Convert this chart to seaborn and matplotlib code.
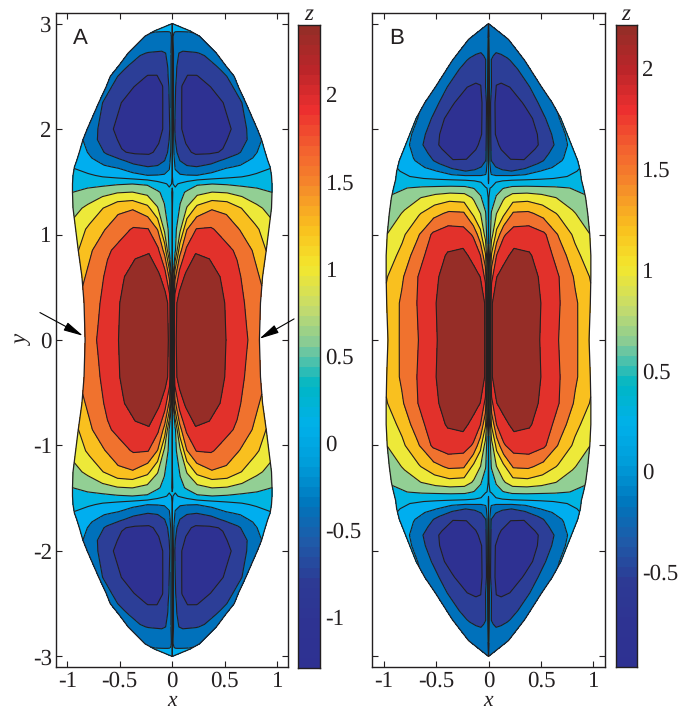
# === IMPORTS ===
import numpy as np
import matplotlib
matplotlib.use("Agg")
import matplotlib.pyplot as plt
from matplotlib.colors import ListedColormap
import seaborn as sns

# === SETTINGS ===
sns.set_theme(style="ticks")
plt.rcParams["font.family"] = ["Liberation Serif", "DejaVu Serif"]
plt.rcParams["axes.unicode_minus"] = False
plt.rcParams["text.hinting"] = "no_hinting"
INK = "#231F20"
FIG_W, FIG_H = 679, 710

# === DATA ===
# columns are fractions of the half width of the shape at each row
XI = [0, 0.03, 0.08, 0.15, 0.25, 0.4, 0.55, 0.7, 0.85, 1]

Y_A = [0, 0.35, 0.6, 0.85, 1.05, 1.25, 1.40, 1.48, 1.56, 1.64, 1.70, 1.78, 1.9, 2.0, 2.25, 2.4, 2.5, 2.6, 2.72, 2.88, 2.93, 3]
WIDTH_A = [0.83, 0.84, 0.86, 0.895, 0.92, 0.945, 0.95, 0.95, 0.945, 0.932, 0.91, 0.885, 0.85, 0.81, 0.70, 0.63, 0.59, 0.51, 0.42, 0.26, 0.17, 0]
Z_A = [
    [0.04, 2.0, 2.2, 2.3, 2.38, 2.35, 2.15, 1.95, 1.75, 1.55],
    [0.04, 1.95, 2.2, 2.3, 2.37, 2.33, 2.13, 1.9, 1.68, 1.5],
    [0.04, 1.3, 1.89, 2.12, 2.28, 2.25, 2.03, 1.82, 1.58, 1.33],
    [0.04, 0.3, 1.26, 1.78, 2.03, 1.97, 1.83, 1.67, 1.39, 1.05],
    [0.04, 0.3, 0.64, 1.37, 1.74, 1.76, 1.6, 1.38, 1.14, 0.87],
    [0.04, 0.18, 0.42, 0.75, 1.15, 1.36, 1.3, 1.05, 0.8, 0.6],
    [0.04, 0.1, 0.3, 0.44, 0.62, 0.73, 0.7, 0.6, 0.47, 0.385],
    [0.06, 0.02, 0.08, 0.18, 0.34, 0.38, 0.35, 0.3, 0.3, 0.28],
    [0.06, -0.2, -0.25, -0.27, -0.28, -0.18, -0.08, 0.0, 0.1, 0.15],
    [0.06, -0.32, -0.5, -0.58, -0.61, -0.5, -0.32, -0.24, -0.12, 0.03],
    [0.06, -0.4, -0.62, -0.75, -0.82, -0.75, -0.55, -0.4, -0.22, -0.05],
    [0.06, -0.55, -0.72, -0.9, -1.0, -1.0, -0.93, -0.68, -0.42, -0.1],
    [0.06, -0.6, -0.82, -0.98, -1.05, -1.08, -1.02, -0.87, -0.6, -0.29],
    [0.06, -0.62, -0.9, -1.02, -1.1, -1.12, -1.05, -0.95, -0.66, -0.42],
    [0.06, -0.55, -0.85, -1.0, -1.1, -1.12, -1.05, -0.95, -0.75, -0.55],
    [0.06, -0.5, -0.78, -0.97, -1.03, -1.03, -0.98, -0.85, -0.7, -0.52],
    [0.06, -0.45, -0.68, -0.85, -0.97, -0.97, -0.85, -0.75, -0.65, -0.5],
    [0.06, -0.4, -0.6, -0.78, -0.82, -0.81, -0.76, -0.7, -0.6, -0.45],
    [0.06, -0.3, -0.5, -0.62, -0.65, -0.64, -0.63, -0.6, -0.5, -0.4],
    [0.06, -0.28, -0.33, -0.36, -0.38, -0.38, -0.37, -0.36, -0.34, -0.31],
    [0.06, -0.25, -0.26, -0.27, -0.27, -0.27, -0.27, -0.27, -0.27, -0.27],
    [0.06, -0.05, -0.05, -0.05, -0.05, -0.05, -0.05, -0.05, -0.05, -0.05],
]

Y_B = [0, 0.35, 0.6, 0.8, 1.0, 1.2, 1.35, 1.44, 1.52, 1.6, 1.7, 1.85, 1.95, 2.1, 2.25, 2.4, 2.65, 2.85, 3]
WIDTH_B = [0.958, 0.97, 0.975, 0.975, 0.965, 0.945, 0.925, 0.905, 0.885, 0.875, 0.85, 0.79, 0.75, 0.69, 0.607, 0.505, 0.345, 0.19, 0]
Z_B = [
    [0.17, 1.9, 2.05, 2.15, 2.2, 2.1, 1.86, 1.63, 1.4, 1.18],
    [0.17, 1.9, 2.05, 2.15, 2.2, 2.1, 1.87, 1.64, 1.39, 1.13],
    [0.17, 1.55, 1.92, 2.03, 2.1, 2.05, 1.83, 1.62, 1.3, 1.03],
    [0.17, 1.1, 1.65, 1.85, 2.0, 1.95, 1.78, 1.49, 1.13, 0.9],
    [0.17, 0.65, 1.15, 1.6, 1.78, 1.8, 1.68, 1.3, 1.0, 0.77],
    [0.17, 0.5, 0.76, 0.98, 1.38, 1.4, 1.25, 1.03, 0.8, 0.62],
    [0.17, 0.3, 0.5, 0.72, 0.92, 0.95, 0.88, 0.76, 0.64, 0.51],
    [0.17, 0.2, 0.38, 0.46, 0.55, 0.56, 0.54, 0.52, 0.48, 0.4],
    [0.2, 0.05, 0.1, 0.14, 0.16, 0.18, 0.2, 0.22, 0.25, 0.3],
    [0.2, -0.2, -0.32, -0.36, -0.39, -0.3, -0.11, -0.02, 0.08, 0.22],
    [0.2, -0.39, -0.5, -0.6, -0.67, -0.67, -0.5, -0.26, -0.07, 0.1],
    [0.2, -0.42, -0.62, -0.72, -0.82, -0.87, -0.75, -0.55, -0.29, -0.02],
    [0.2, -0.42, -0.67, -0.8, -0.9, -0.94, -0.82, -0.53, -0.33, -0.06],
    [0.2, -0.4, -0.66, -0.8, -0.9, -0.92, -0.78, -0.53, -0.3, -0.07],
    [0.2, -0.38, -0.62, -0.82, -0.9, -0.85, -0.66, -0.47, -0.32, -0.17],
    [0.2, -0.3, -0.48, -0.7, -0.72, -0.68, -0.55, -0.46, -0.33, -0.22],
    [0.2, -0.2, -0.4, -0.43, -0.46, -0.44, -0.41, -0.36, -0.28, -0.2],
    [0.2, -0.12, -0.25, -0.27, -0.28, -0.28, -0.27, -0.26, -0.24, -0.2],
    [0.2, -0.15, -0.15, -0.15, -0.15, -0.15, -0.15, -0.15, -0.15, -0.15],
]

Z_RANGE_A = (-1.29, 2.396)
Z_RANGE_B = (-0.973, 2.214)

X_TICKS = [-1, -0.5, 0, 0.5, 1]
X_LABELS = ["-1", "-0.5", "0", "0.5", "1"]
Y_TICKS = [-3, -2, -1, 0, 1, 2, 3]
Y_LABELS = ["-3", "-2", "-1", "0", "1", "2", "3"]
CBAR_TICKS_A = [-1, -0.5, 0, 0.5, 1, 1.5, 2]
CBAR_LABELS_A = ["-1", "-0.5", "0", "0.5", "1", "1.5", "2"]
CBAR_TICKS_B = [-0.5, 0, 0.5, 1, 1.5, 2]
CBAR_LABELS_B = ["-0.5", "0", "0.5", "1", "1.5", "2"]

BAND_COLORS = ["#2E3192", "#2C3E97", "#0071BB", "#00AEEF", "#00B5E2", "#92CF94",
               "#EDE939", "#F9C01F", "#F0722E", "#E2312B", "#962D27"]
BAR_ANCHORS = ["#2E3192", "#2E3392", "#2D3A94", "#1F5AA8", "#0075BC", "#009CD9",
               "#00B0EA", "#00B6C5", "#7FC99A", "#C6DC6C", "#F3E72E", "#FAC01E",
               "#F58D2A", "#F3622F", "#EC2F2F", "#BB2529", "#962D27"]


# === HELPERS ===
def px_rect(x0, y0, x1, y1):
    return [x0 / FIG_W, 1 - y1 / FIG_H, (x1 - x0) / FIG_W, (y1 - y0) / FIG_H]


def mirror_grid(y_rows, widths, z_rows):
    xi = np.array(XI)
    z = np.array(z_rows)
    y = np.array(y_rows)
    w = np.array(widths)
    # mirror left/right, then top/bottom
    xi_full = np.concatenate([-xi[:0:-1], xi])
    z = np.hstack([z[:, :0:-1], z])
    y_full = np.concatenate([-y[:0:-1], y])
    w_full = np.concatenate([w[:0:-1], w])
    z_full = np.vstack([z[:0:-1], z])
    X = xi_full[None, :] * w_full[:, None]
    Y = np.repeat(y_full[:, None], len(xi_full), axis=1)
    return X, Y, z_full, y_full, w_full


def draw_shape(ax, y_rows, widths, z_rows, z_range):
    X, Y, Z, y_full, w_full = mirror_grid(y_rows, widths, z_rows)
    levels = np.linspace(z_range[0], z_range[1], len(BAND_COLORS) + 1)
    ax.contourf(X, Y, Z, levels=levels, colors=BAND_COLORS)
    ax.contour(X, Y, Z, levels=levels[1:-1], colors=INK, linewidths=0.8, linestyles="solid")
    sns.lineplot(x=np.concatenate([w_full, -w_full[::-1]]),
                 y=np.concatenate([y_full, y_full[::-1]]),
                 sort=False, estimator=None, color=INK, linewidth=0.9, ax=ax)
    ax.set_xlim(-1.107, 1.105)
    ax.set_ylim(-3.10, 3.10)
    ax.set_xticks(X_TICKS)
    ax.set_xticklabels(X_LABELS)
    ax.set_yticks(Y_TICKS)
    ax.tick_params(direction="in", top=True, right=True, length=4, width=0.8,
                   color=INK, labelcolor=INK, labelsize=16.5, pad=3)
    ax.set_xlabel("x", style="italic", fontsize=15.5, color=INK, labelpad=-1.2)
    for side in ax.spines.values():
        side.set_linewidth(1.0)
        side.set_color(INK)


def draw_bar(cax, z_range, ticks, labels):
    n_steps = 64
    cmap = ListedColormap(sns.blend_palette(BAR_ANCHORS, n_steps))
    edges = np.linspace(z_range[0], z_range[1], n_steps + 1)
    cax.pcolormesh([0, 1], edges, np.arange(n_steps)[:, None], cmap=cmap)
    cax.set_xticks([])
    cax.set_yticks(ticks)
    cax.set_yticklabels(labels)
    cax.tick_params(axis="y", direction="in", left=True, right=True, labelleft=False,
                    labelright=True, length=4, width=0.8, color=INK, labelcolor=INK,
                    labelsize=16.5, pad=4)
    cax.set_title("z", style="italic", fontsize=16.5, color=INK, pad=1)
    for side in cax.spines.values():
        side.set_linewidth(1.0)
        side.set_color(INK)


# === FIGURE ===
fig = plt.figure(figsize=(FIG_W / 100, FIG_H / 100), dpi=100)

ax_a = fig.add_axes(px_rect(56, 13, 288.3, 667))
draw_shape(ax_a, Y_A, WIDTH_A, Z_A, Z_RANGE_A)
ax_a.set_yticklabels(Y_LABELS)
ax_a.set_ylabel("y", style="italic", fontsize=16.5, color=INK, labelpad=0)
ax_a.text(-0.946, 2.805, "A", family="Liberation Sans", fontsize=16, color=INK)

# arrows pointing at the waist of the shape
head = "-|>,head_length=0.75,head_width=0.17"
ax_a.annotate("", xy=(-0.85, 0.04), xytext=(-1.26, 0.26), annotation_clip=False,
              arrowprops=dict(arrowstyle=head, color="black", lw=0.8, mutation_scale=16,
                              shrinkA=0, shrinkB=0))
ax_a.annotate("", xy=(0.83, 0.012), xytext=(1.16, 0.2), annotation_clip=False,
              arrowprops=dict(arrowstyle=head, color="black", lw=0.8, mutation_scale=16,
                              shrinkA=0, shrinkB=0))

ax_b = fig.add_axes(px_rect(372.3, 13, 604.5, 667))
draw_shape(ax_b, Y_B, WIDTH_B, Z_B, Z_RANGE_B)
ax_b.set_yticklabels([])
ax_b.text(-0.946, 2.805, "B", family="Liberation Sans", fontsize=16, color=INK)

cax_a = fig.add_axes(px_rect(298.3, 25, 320, 668))
draw_bar(cax_a, Z_RANGE_A, CBAR_TICKS_A, CBAR_LABELS_A)

cax_b = fig.add_axes(px_rect(615.7, 25, 636.7, 667))
draw_bar(cax_b, Z_RANGE_B, CBAR_TICKS_B, CBAR_LABELS_B)

plt.savefig("out.png", dpi=100)
plt.close()
